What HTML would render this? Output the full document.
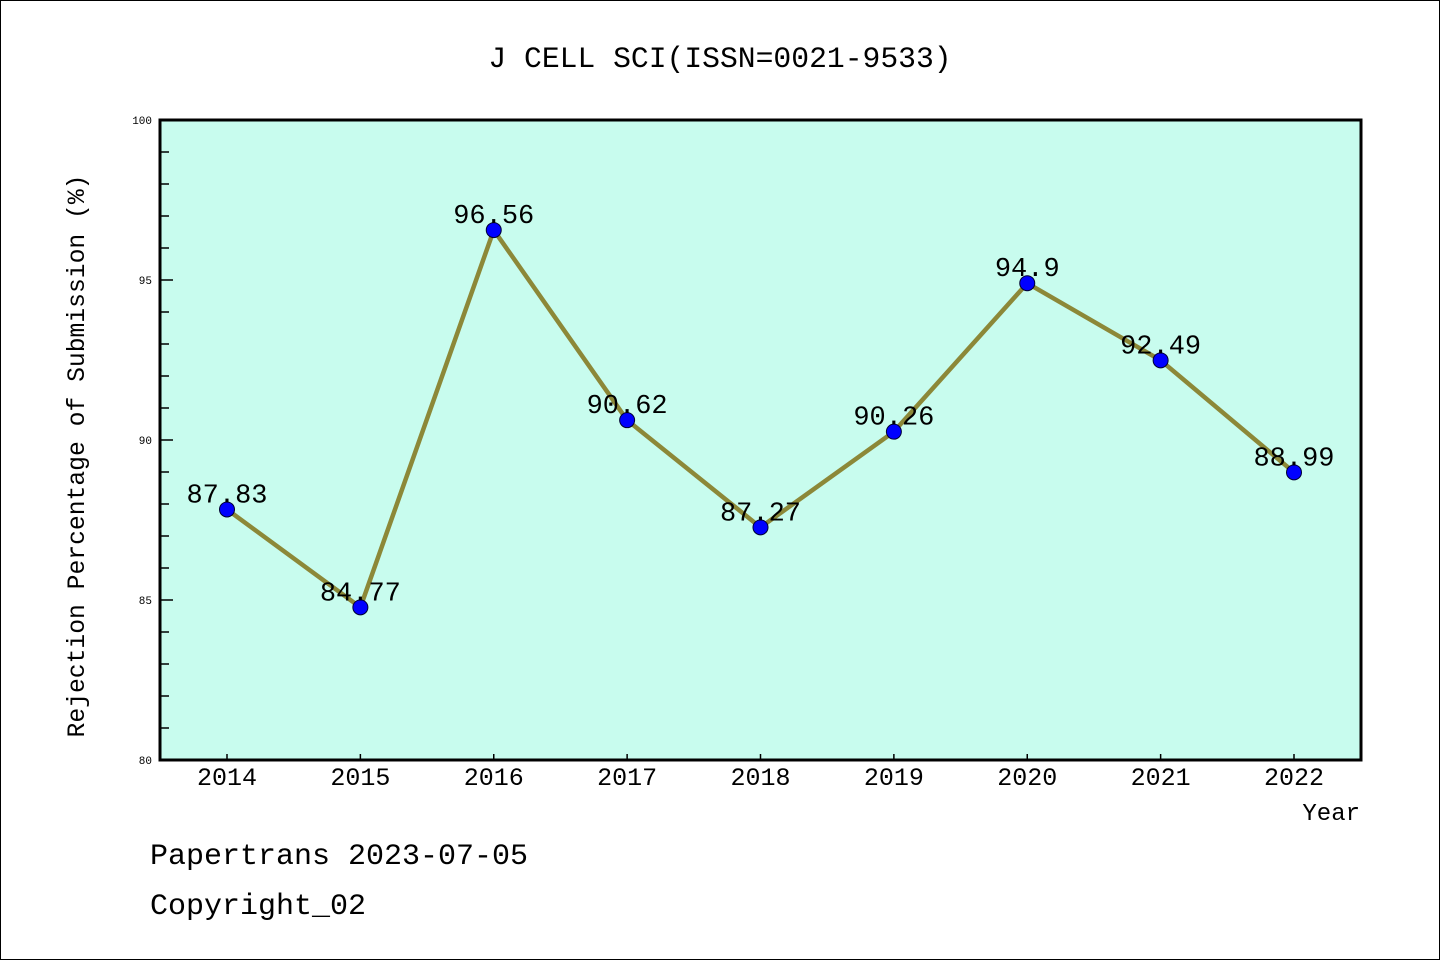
<!DOCTYPE html>
<html><head><meta charset="utf-8"><style>
body{margin:0;background:#fff}
svg{display:block;font-family:"Liberation Mono","WenQuanYi Zen Hei",monospace}
</style></head><body>
<svg width="1440" height="960" xmlns="http://www.w3.org/2000/svg">
<rect x="0.5" y="0.5" width="1439" height="959" fill="#fff" stroke="#000"/>
<text x="720" y="67" font-size="29.7" text-anchor="middle">J CELL SCI(ISSN=0021-9533)</text>
<rect x="160" y="120" width="1201" height="640" fill="#c8fcee"/>
<g id="axes"></g>
<g id="series"></g>
<rect x="160" y="120" width="1201" height="640" fill="none" stroke="#000" stroke-width="3"/>
<text x="1360" y="820" font-size="24" text-anchor="end">Year</text>
<text transform="translate(84,456) rotate(-90)" font-size="24.7" text-anchor="middle">Rejection Percentage of Submission (%)</text>
<text x="150" y="864" font-size="30">Papertrans 2023-07-05</text>
<text x="150" y="914" font-size="30">Copyright_02</text>
</svg>
<script>
const categories=["2014","2015","2016","2017","2018","2019","2020","2021","2022"];
const values=[87.83,84.77,96.56,90.62,87.27,90.26,94.9,92.49,88.99];
const valueLabels=["87.83","84.77","96.56","90.62","87.27","90.26","94.9","92.49","88.99"];
const yTicks=[80,85,90,95,100];
const NS="http://www.w3.org/2000/svg";
function x(i){return 227+i*(1294-227)/(categories.length-1);}
function y(v){return 760-(v-80)*32;}
function mk(t,a,p){const e=document.createElementNS(NS,t);for(const k in a)e.setAttribute(k,a[k]);p.appendChild(e);return e;}
const ax=document.getElementById('axes'),se=document.getElementById('series');
for(let v=81;v<100;v++){
 const major=v%5===0;
 const l=mk('line',{x1:160,x2:major?173:169,y1:y(v),y2:y(v),stroke:'#000','stroke-width':1.5},ax);
 
 
}
yTicks.forEach(v=>{
 const t=mk('text',{x:152,y:y(v)+4,'font-size':11,'text-anchor':'end'},ax);t.textContent=v;
 
 
});
categories.forEach((c,i)=>{
 const l=mk('line',{x1:x(i),x2:x(i),y1:760,y2:754,stroke:'#000','stroke-width':1.5},ax);
 
 
 const t=mk('text',{x:x(i),y:785,'font-size':25,'text-anchor':'middle'},ax);t.textContent=c;
 
 
});
const pl=mk('polyline',{points:values.map((v,i)=>x(i)+','+y(v)).join(' '),fill:'none',stroke:'#8c8838','stroke-width':4.5,'stroke-linejoin':'round'},se);


values.forEach((v,i)=>{
 const c=mk('circle',{cx:x(i),cy:y(v),r:7.5,fill:'#0000ff',stroke:'#000033','stroke-width':1},se);
 
 
 const t=mk('text',{x:x(i),y:y(v)-7,'font-size':27,'text-anchor':'middle'},se);t.textContent=valueLabels[i];
 
 
});
</script>
</body></html>
